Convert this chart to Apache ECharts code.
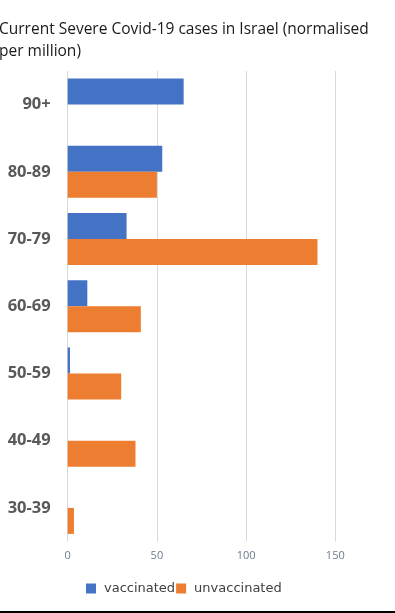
<!DOCTYPE html>
<html><head><meta charset="utf-8">
<script src="https://cdn.jsdelivr.net/npm/echarts@6/dist/echarts.min.js"></script>
<style>html,body{margin:0;padding:0;background:#fff;}#c{width:395px;height:613px;}</style>
</head><body><div id="c"></div>
<script>
const categories = ['90+', '80-89', '70-79', '60-69', '50-59', '40-49', '30-39'];
const vaccinated = [65, 53, 33, 11, 1.3, 0, 0];
const unvaccinated = [0, 50, 140, 41, 30, 38, 3.5];
const xTicks = [0, 50, 100, 150];

const chart = echarts.init(document.getElementById('c'), null, {renderer: 'canvas'});
chart.setOption({
  animation: false,
  backgroundColor: '#fff',
  title: {
    text: 'Current Severe Covid-19 cases in Israel (normalised\nper million)',
    left: -1, top: 19, padding: 0,
    textStyle: {fontFamily: 'Open Sans', fontSize: 15.5, fontWeight: 'normal', color: '#1a1a1a', lineHeight: 22}
  },
  legend: {
    left: 86, top: 582, padding: 0,
    itemWidth: 10, itemHeight: 10, itemGap: 1,
    icon: 'rect',
    textStyle: {fontFamily: 'DejaVu Sans', fontSize: 13, color: '#404040', padding: [0, 0, 0, 3]},
    data: ['vaccinated', 'unvaccinated']
  },
  grid: {left: 67.7, right: 59.7, top: 71, bottom: 71.5, containLabel: false},
  xAxis: {
    type: 'value', min: xTicks[0], max: xTicks[xTicks.length - 1], interval: 50,
    axisLine: {show: false}, axisTick: {show: false},
    axisLabel: {fontFamily: 'Open Sans', fontSize: 11, color: '#6b7a8f', margin: 9},
    splitLine: {lineStyle: {color: '#d9d9d9', width: 1}}
  },
  yAxis: {
    type: 'category', data: categories, inverse: true,
    axisLine: {show: false}, axisTick: {show: false},
    axisLabel: {fontFamily: 'Open Sans', fontSize: 16.5, fontWeight: 'bold', color: '#595959', margin: 17}
  },
  series: [
    {name: 'vaccinated', type: 'bar', data: vaccinated, barWidth: 26, barGap: '0%', itemStyle: {color: '#4472C4'}},
    {name: 'unvaccinated', type: 'bar', data: unvaccinated, barWidth: 26, barGap: '0%', itemStyle: {color: '#ED7D31'}}
  ],
  graphic: [{type: 'rect', left: 0, bottom: 0, shape: {width: 395, height: 2}, style: {fill: '#000'}}]
});
</script></body></html>
